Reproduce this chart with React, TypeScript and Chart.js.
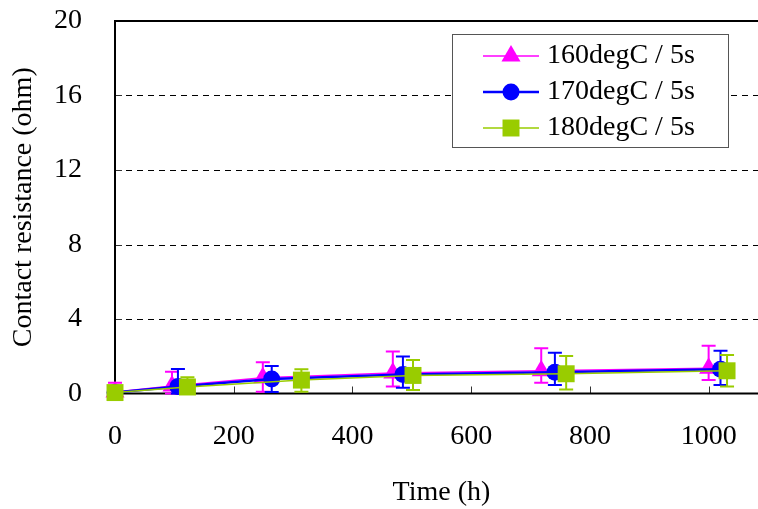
import React, { useEffect, useRef } from 'react';
import { Chart, registerables } from 'chart.js';

Chart.register(...registerables);

const seriesLabels = ['160degC / 5s', '170degC / 5s', '180degC / 5s'];
const seriesColors = ['#FF00FF', '#0000FF', '#99CC00'];

const time160 = [0, 96, 249, 468, 718, 1000];
const res160 = [0.08, 0.4, 0.85, 1.1, 1.22, 1.35];
const errUp160 = [0.5, 0.77, 0.83, 1.15, 1.21, 1.22];
const errDown160 = [0.08, 0.4, 0.75, 0.73, 0.64, 0.62];

const time170 = [0, 106, 264, 485, 741, 1020];
const res170 = [0.05, 0.37, 0.78, 1.02, 1.14, 1.3];
const errUp170 = [0.2, 0.95, 0.7, 0.96, 1.05, 1.0];
const errDown170 = [0.05, 0.37, 0.7, 0.71, 0.68, 0.84];

const time180 = [0, 122, 314, 502, 760, 1031];
const res180 = [0.05, 0.35, 0.72, 0.97, 1.06, 1.22];
const errUp180 = [0.1, 0.52, 0.58, 0.83, 0.96, 0.85];
const errDown180 = [0.05, 0.35, 0.62, 0.78, 0.84, 0.85];

const xTicks = [0, 200, 400, 600, 800, 1000];
const yTicks = [0, 4, 8, 12, 16, 20];

const FONT = '"Liberation Serif", "Times New Roman", serif';

const errUps = [errUp160, errUp170, errUp180];
const errDowns = [errDown160, errDown170, errDown180];

function drawMarker(ctx: CanvasRenderingContext2D, style: string, r: number, x: number, y: number) {
  ctx.beginPath();
  if (style === 'triangle') {
    const w = r * Math.sqrt(3) / 2;
    ctx.moveTo(x, y - r);
    ctx.lineTo(x + w, y + r / 2);
    ctx.lineTo(x - w, y + r / 2);
    ctx.closePath();
  } else if (style === 'circle') {
    ctx.arc(x, y, r, 0, Math.PI * 2);
  } else {
    const s = r * Math.SQRT1_2;
    ctx.rect(x - s, y - s, 2 * s, 2 * s);
  }
  ctx.fill();
}

const customPlugin = {
  id: 'customDecor',
  beforeDatasetsDraw(chart: any) {
    const { ctx, chartArea: a, scales } = chart;
    const x = scales.x;
    const y = scales.y;
    ctx.save();
    ctx.strokeStyle = '#000';
    ctx.lineWidth = 1;
    ctx.setLineDash([6, 5]);
    for (const v of yTicks) {
      if (v === yTicks[0] || v === yTicks[yTicks.length - 1]) continue;
      const py = Math.round(y.getPixelForValue(v)) + 0.5;
      ctx.beginPath();
      ctx.moveTo(a.left, py);
      ctx.lineTo(a.right, py);
      ctx.stroke();
    }
    ctx.setLineDash([]);
    ctx.strokeStyle = '#333';
    ctx.lineWidth = 1;
    for (const v of xTicks) {
      if (v === 0) continue;
      const px = Math.round(x.getPixelForValue(v)) + 0.5;
      ctx.beginPath();
      ctx.moveTo(px, a.bottom);
      ctx.lineTo(px, a.bottom - 7);
      ctx.stroke();
    }
    for (const v of yTicks) {
      if (v === yTicks[0] || v === yTicks[yTicks.length - 1]) continue;
      const py = Math.round(y.getPixelForValue(v)) + 0.5;
      ctx.beginPath();
      ctx.moveTo(a.left, py);
      ctx.lineTo(a.left + 7, py);
      ctx.stroke();
    }
    ctx.strokeStyle = '#000';
    ctx.lineWidth = 2;
    ctx.strokeRect(a.left, a.top, a.right - a.left, a.bottom - a.top);
    ctx.restore();
  },
  beforeDatasetDraw(chart: any, args: any) {
    const { ctx, scales } = chart;
    const x = scales.x;
    const y = scales.y;
    const i = args.index;
    const ds = chart.data.datasets[i];
    const ups = errUps[i];
    const downs = errDowns[i];
    ctx.save();
    ctx.strokeStyle = seriesColors[i];
    ctx.lineWidth = 2;
    ds.data.forEach((p: any, k: number) => {
      const px = x.getPixelForValue(p.x);
      const top = y.getPixelForValue(p.y + ups[k]);
      const bot = y.getPixelForValue(Math.max(0, p.y - downs[k]));
      ctx.beginPath();
      ctx.moveTo(px, top);
      ctx.lineTo(px, bot);
      ctx.moveTo(px - 7, top);
      ctx.lineTo(px + 7, top);
      ctx.moveTo(px - 7, bot);
      ctx.lineTo(px + 7, bot);
      ctx.stroke();
    });
    ctx.restore();
  },
  afterDraw(chart: any) {
    const { ctx } = chart;
    ctx.save();
    ctx.fillStyle = '#fff';
    ctx.fillRect(452, 34, 276, 113);
    ctx.strokeStyle = '#555';
    ctx.lineWidth = 1;
    ctx.strokeRect(452.5, 34.5, 276, 113);
    const rows = [56, 92, 128];
    const styles = ['triangle', 'circle', 'rect'];
    const radii = [11, 8.5, 12];
    const widths = [1.5, 2.5, 1.5];
    for (let i = 0; i < 3; i++) {
      const yy = rows[i];
      ctx.strokeStyle = seriesColors[i];
      ctx.lineWidth = widths[i];
      ctx.beginPath();
      ctx.moveTo(483, yy);
      ctx.lineTo(539, yy);
      ctx.stroke();
      ctx.fillStyle = seriesColors[i];
      drawMarker(ctx, styles[i], radii[i], 511, yy);
      ctx.fillStyle = '#000';
      ctx.font = '28px ' + FONT;
      ctx.textBaseline = 'middle';
      ctx.textAlign = 'left';
      ctx.fillText(seriesLabels[i], 547, yy);
    }
    ctx.restore();
  },
};

export default function App() {
  const ref = useRef<HTMLCanvasElement>(null);
  useEffect(() => {
    document.body.style.margin = '0';
    const mk = (xs: number[], ys: number[]) => xs.map((v, k) => ({ x: v, y: ys[k] }));
    const chart = new Chart(ref.current as HTMLCanvasElement, {
      type: 'scatter',
      data: {
        datasets: [
          {
            label: seriesLabels[0],
            data: mk(time160, res160),
            showLine: true,
            borderColor: seriesColors[0],
            backgroundColor: seriesColors[0],
            borderWidth: 1.5,
            pointStyle: 'triangle',
            pointRadius: 11,
            pointBorderWidth: 0,
            order: 2,
            clip: false,
          },
          {
            label: seriesLabels[1],
            data: mk(time170, res170),
            showLine: true,
            borderColor: seriesColors[1],
            backgroundColor: seriesColors[1],
            borderWidth: 2.5,
            pointStyle: 'circle',
            pointRadius: 8.5,
            pointBorderWidth: 0,
            order: 1,
            clip: false,
          },
          {
            label: seriesLabels[2],
            data: mk(time180, res180),
            showLine: true,
            borderColor: seriesColors[2],
            backgroundColor: seriesColors[2],
            borderWidth: 1.5,
            pointStyle: 'rect',
            pointRadius: 12,
            pointBorderWidth: 0,
            order: 0,
            clip: false,
          },
        ],
      },
      options: {
        animation: false,
        responsive: false,
        devicePixelRatio: 1,
        layout: { padding: { left: 0, top: 21, right: 10, bottom: 0 } },
        plugins: { legend: { display: false }, tooltip: { enabled: false } },
        scales: {
          x: {
            type: 'linear',
            min: 0,
            max: 1100,
            afterBuildTicks: (s: any) => {
              s.ticks = xTicks.map((v) => ({ value: v }));
            },
            afterFit: (s: any) => {
              s.height = 115.5;
              s.paddingLeft = 0;
              s.paddingRight = 0;
            },
            ticks: {
              autoSkip: false,
              maxRotation: 0,
              padding: 26,
              color: '#000',
              font: { family: FONT, size: 28 },
              callback: (v: any) => String(v),
            },
            grid: { display: false, drawTicks: false },
            border: { display: false },
            title: {
              display: true,
              text: 'Time (h)',
              color: '#000',
              font: { family: FONT, size: 28 },
              padding: { top: 0, bottom: 0 },
            },
          },
          y: {
            type: 'linear',
            min: 0,
            max: 20,
            afterBuildTicks: (s: any) => {
              s.ticks = yTicks.map((v) => ({ value: v }));
            },
            afterFit: (s: any) => {
              s.width = 115;
              s.paddingTop = 0;
              s.paddingBottom = 0;
            },
            ticks: {
              autoSkip: false,
              padding: 33,
              color: '#000',
              font: { family: FONT, size: 28 },
              callback: (v: any) => String(v),
            },
            grid: { display: false, drawTicks: false },
            border: { display: false },
            title: {
              display: true,
              text: 'Contact resistance (ohm)',
              color: '#000',
              font: { family: FONT, size: 28 },
              padding: { top: 7, bottom: 0 },
            },
          },
        },
      },
      plugins: [customPlugin],
    } as any);
    return () => chart.destroy();
  }, []);
  return (
    <div style={{ width: 758, height: 509, overflow: 'hidden', position: 'relative' }}>
      <canvas ref={ref} width={780} height={509} style={{ display: 'block', width: 780, height: 509 }} />
    </div>
  );
}
